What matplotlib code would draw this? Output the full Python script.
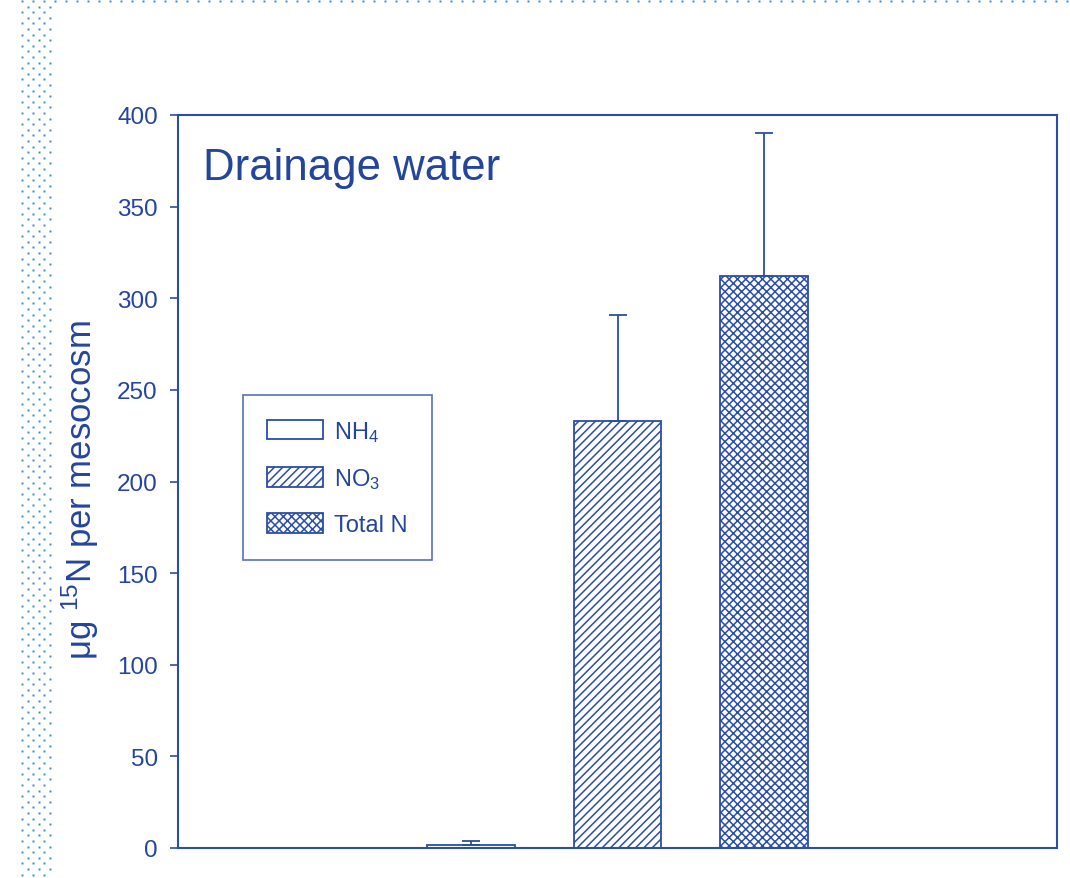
import numpy as np
import matplotlib
matplotlib.use('Agg')
import matplotlib.pyplot as plt

plt.rcParams['font.family'] = ['Liberation Sans', 'DejaVu Sans']
plt.rcParams['mathtext.default'] = 'regular'
plt.rcParams['hatch.linewidth'] = 1.1

BLUE = '#2b4ea6'
TEXT = '#24459c'
DOTS = '#3a8fd8'

# 15N recovered in drainage water
labels = ['NH$_4$', 'NO$_3$', 'Total N']
values = [1.8, 233, 312]
errors = [1.8, 58, 78]
hatches = ['', '////', 'xxxx']
yticks = [0, 50, 100, 150, 200, 250, 300, 350, 400]

fig = plt.figure(figsize=(10.7, 8.79), dpi=100)

# dotted page decoration (left strip + top rule), in pixel space
bg = fig.add_axes([0, 0, 1, 1], zorder=-1)
bg.set_xlim(0, 1070)
bg.set_ylim(879, 0)
bg.axis('off')
rows = np.arange(2, 879, 5.6)
for i, yy in enumerate(rows):
    xs = [22, 33, 44] if i % 2 == 0 else [27.5, 38.5, 49.5]
    bg.plot(xs, [yy] * len(xs), 's', ms=1.9, color=DOTS, mec='none')
top_x = np.arange(55, 1070, 11)
bg.plot(top_x, [2] * len(top_x), 's', ms=1.9, color=DOTS, mec='none')

ax = fig.add_axes([178 / 1070, 30 / 879, 879 / 1070, 733 / 879])
x = np.arange(len(values))
for xi, v, e, h, lab in zip(x, values, errors, hatches, labels):
    ax.bar(xi, v, width=0.594, color='white', edgecolor=BLUE,
           linewidth=1.3, hatch=h, label=lab, zorder=2)
    ax.errorbar(xi, v, yerr=[[0], [e]], fmt='none', ecolor=BLUE,
                elinewidth=1.3, capsize=6.5, capthick=1.3, zorder=3)

ax.set_xlim(-2, 4)
ax.set_ylim(0, 400)
ax.set_xticks([])
ax.set_yticks(yticks)
ax.tick_params(axis='y', direction='out', length=6, width=1.2, color=BLUE,
               labelcolor=TEXT, labelsize=17.5, pad=8.5)
for s in ax.spines.values():
    s.set_color(BLUE)
    s.set_linewidth(1.5)

ax.text(0.028, 0.9127, 'Drainage water', transform=ax.transAxes,
        fontsize=31.5, color=TEXT, ha='left', va='baseline')

fig.text(80 / 1070, (879 - 490) / 879, 'μg $^{15}$N per mesocosm',
         rotation=90, ha='center', va='center', fontsize=25, color=TEXT)

leg = ax.legend(loc='upper left', bbox_to_anchor=(0.074, 0.618),
                borderaxespad=0, borderpad=1.0, labelspacing=0.95,
                handlelength=2.37, handleheight=0.89, handletextpad=0.5,
                fontsize=17, fancybox=False, frameon=True)
leg.get_frame().set_edgecolor(BLUE)
leg.get_frame().set_linewidth(1.2)
for t in leg.get_texts():
    t.set_color(TEXT)

fig.savefig('out.png', dpi=100)
